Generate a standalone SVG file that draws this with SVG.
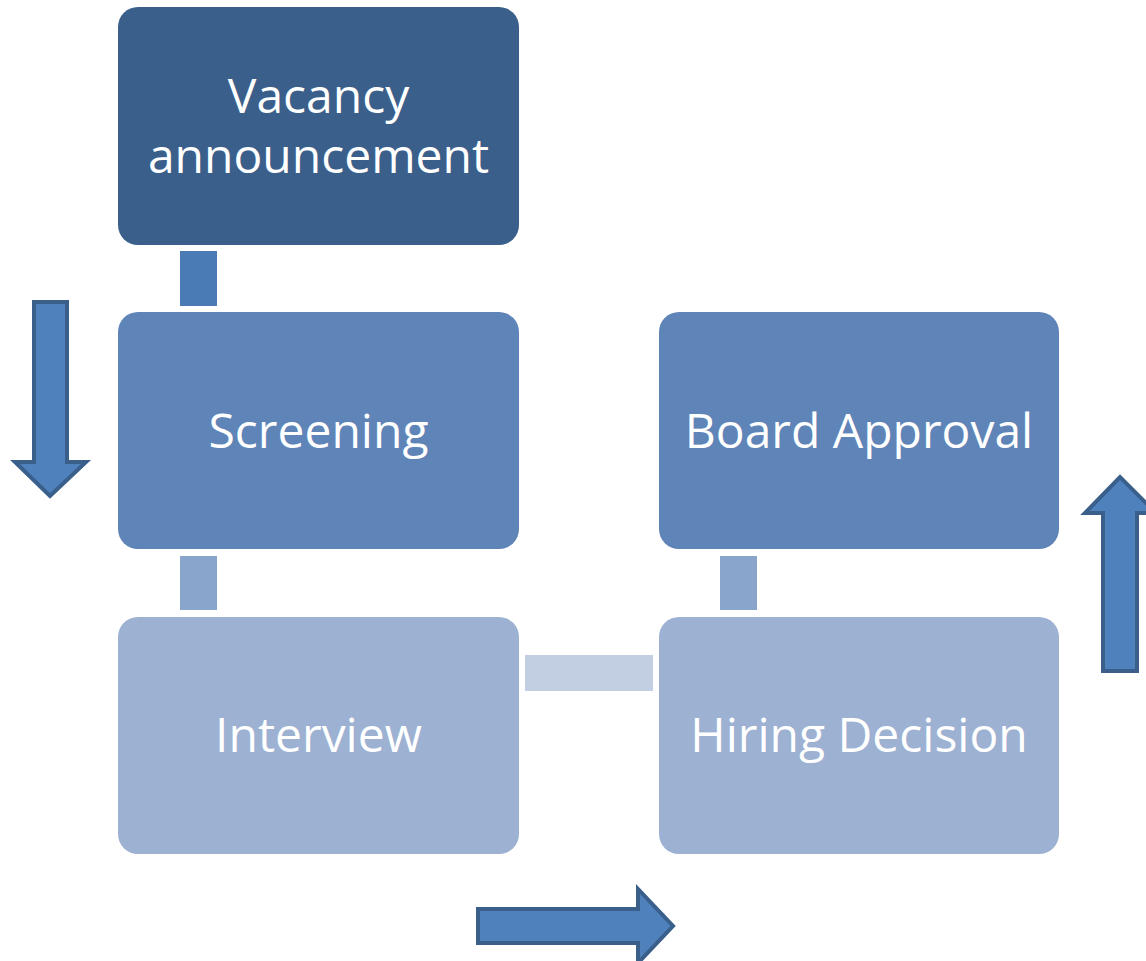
<svg xmlns="http://www.w3.org/2000/svg" width="1146" height="961" viewBox="0 0 1146 961">
  <style>
    .box { stroke: none; }
    .lvl1 { fill: #3A5F8B; }
    .lvl2 { fill: #5F84B8; }
    .lvl3 { fill: #9DB1D2; }
    .label { font-family: "Open Sans", "Noto Sans", sans-serif; font-size: 48px; fill: #FFFFFF; text-anchor: middle; }
    .arrow { fill: #4F81BD; stroke: #3A5F8B; stroke-width: 4; stroke-linejoin: miter; }
  </style>
  <rect width="1146" height="961" fill="#FFFFFF"/>

  <!-- connectors between steps -->
  <g id="connectors">
    <rect x="180" y="251" width="37" height="55" fill="#4A7BB4"/>
    <rect x="180" y="556" width="37" height="54" fill="#8AA5CB"/>
    <rect x="525" y="655" width="128" height="36" fill="#C2CEE2"/>
    <rect x="720" y="556" width="37" height="54" fill="#8AA5CB"/>
  </g>

  <g id="vacancy">
    <rect class="box lvl1" x="118" y="7" width="401" height="238" rx="20"/>
    <text class="label" x="318.5" y="113">Vacancy</text>
    <text class="label" x="318.5" y="173">announcement</text>
  </g>

  <g id="screening">
    <rect class="box lvl2" x="118" y="312" width="401" height="237" rx="20"/>
    <text class="label" x="318.5" y="448">Screening</text>
  </g>

  <g id="interview">
    <rect class="box lvl3" x="118" y="617" width="401" height="237" rx="20"/>
    <text class="label" x="318.5" y="752">Interview</text>
  </g>

  <g id="hiring-decision">
    <rect class="box lvl3" x="659" y="617" width="400" height="237" rx="20"/>
    <text class="label" x="859" y="752">Hiring Decision</text>
  </g>

  <g id="board-approval">
    <rect class="box lvl2" x="659" y="312" width="400" height="237" rx="20"/>
    <text class="label" x="859" y="448">Board Approval</text>
  </g>

  <!-- direction arrows -->
  <g id="arrows">
    <path class="arrow" d="M34,302 H67 V462 H86 L50,496 L15,462 H34 Z"/>
    <path class="arrow" d="M1103,671 H1137 V513 H1156 L1120,477 L1085,513 H1103 Z"/>
    <path class="arrow" d="M478,909 H638 V889 L673,926 L638,963 V943 H478 Z"/>
  </g>
</svg>
